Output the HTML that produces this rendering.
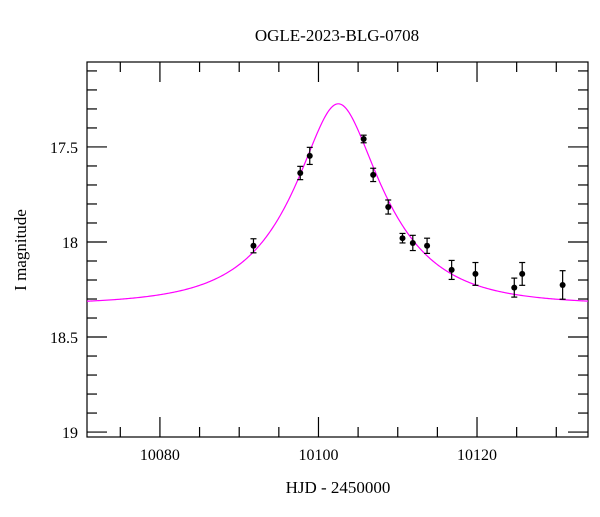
<!DOCTYPE html>
<html><head><meta charset="utf-8"><style>
body{margin:0;background:#fff}
svg text{font-family:"Liberation Serif","DejaVu Serif",serif;fill:#000}
</style></head><body>
<svg id="c" width="600" height="512" viewBox="0 0 600 512"></svg>
<script>
const hjd=[10091.8,10097.7,10098.9,10105.7,10106.9,10108.8,10110.6,10111.9,10113.7,10116.8,10119.8,10124.7,10125.7,10130.8];
const mag=[18.02,17.637,17.547,17.458,17.647,17.816,17.98,18.005,18.02,18.147,18.168,18.24,18.168,18.226];
const err=[0.037,0.035,0.045,0.02,0.035,0.037,0.025,0.04,0.04,0.05,0.06,0.05,0.06,0.075];
const modelParams=[10102.5,0.40,10.7,18.33]; // t0,u0,tE,baseline
const xTicks=[10080,10100,10120];
const yTicks=[17.5,18,18.5,19];
const yTickLabels=["17.5","18","18.5","19"];
const L=87,R=588,T=62,B=437,X0=10070.8,X1=10134,Y0=17.053,Y1=19.026;
const sx=v=>L+(v-X0)/(X1-X0)*(R-L), sy=v=>T+(v-Y0)/(Y1-Y0)*(B-T);
const svg=document.getElementById('c'),NS='http://www.w3.org/2000/svg';
function mk(t,a,p){const e=document.createElementNS(NS,t);for(const k in a)e.setAttribute(k,a[k]);(p||svg).appendChild(e);return e;}
const title=mk('text',{x:337,y:41,'text-anchor':'middle','font-size':17});title.textContent='OGLE-2023-BLG-0708';

const xl=mk('text',{x:338,y:493,'text-anchor':'middle','font-size':17});xl.textContent='HJD - 2450000';

const yl=mk('text',{x:0,y:0,'text-anchor':'middle','font-size':17,transform:'translate(26,250) rotate(-90)'});yl.textContent='I magnitude';

const ax=mk('g',{stroke:'#000','stroke-width':1.2});
mk('rect',{x:L,y:T,width:R-L,height:B-T,fill:'none'},ax);
for(let v=10075;v<=X1;v+=5){const x=sx(v),len=(v%20===0)?20:10;
 mk('line',{x1:x,y1:T,x2:x,y2:T+len},ax);mk('line',{x1:x,y1:B,x2:x,y2:B-len},ax);}
for(let i=171;i<=190;i++){const v=i/10,y=sy(v),len=(i%5===0)?20:10;
 mk('line',{x1:L,y1:y,x2:L+len,y2:y},ax);mk('line',{x1:R,y1:y,x2:R-len,y2:y},ax);}
xTicks.forEach(v=>{const t=mk('text',{x:sx(v),y:460,'text-anchor':'middle','font-size':16});t.textContent=v;
 });
yTicks.forEach((v,i)=>{const t=mk('text',{x:78,y:sy(v)+6,'text-anchor':'end','font-size':16});t.textContent=yTickLabels[i];
 });
const [t0,u0,tE,base]=modelParams;let d='';
for(let px=L;px<=R;px+=1){const t=X0+(px-L)/(R-L)*(X1-X0),tau=(t-t0)/tE,u=Math.sqrt(u0*u0+tau*tau);
 const A=(u*u+2)/(u*Math.sqrt(u*u+4));d+=(px===L?'M':'L')+px+','+sy(base-2.5*Math.log10(A)).toFixed(2);}
const c=mk('path',{d:d,fill:'none',stroke:'#ff00ff','stroke-width':1.2});

hjd.forEach((h,i)=>{const g=mk('g',{stroke:'#000','stroke-width':1.2});
 
 const x=sx(h),y1=sy(mag[i]-err[i]),y2=sy(mag[i]+err[i]);
 mk('line',{x1:x,y1:y1,x2:x,y2:y2},g);mk('line',{x1:x-3,y1:y1,x2:x+3,y2:y1},g);mk('line',{x1:x-3,y1:y2,x2:x+3,y2:y2},g);
 mk('circle',{cx:x,cy:sy(mag[i]),r:3,fill:'#000',stroke:'none'},g);});
</script>
</body></html>
